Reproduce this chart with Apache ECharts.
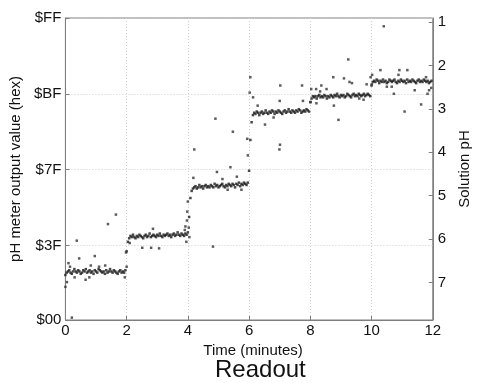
<!DOCTYPE html>
<html>
<head>
<meta charset="utf-8">
<script src="https://cdn.jsdelivr.net/npm/echarts@6/dist/echarts.min.js"></script>
<style>
html, body { margin: 0; padding: 0; background: #fff; }
#readout { width: 480px; height: 383px; }
</style>
</head>
<body>
<div id="readout"></div>
<script>
// pH meter readout, one reading every 2.5 s, 2 minutes per buffer solution

// time axis ticks (minutes)
let timeTicks = [0, 2, 4, 6, 8, 10, 12];
// left axis: raw 8 bit meter value
let hexTicks = [0, 63, 127, 191, 255];
// right axis: solution pH
let phTicks = [1, 2, 3, 4, 5, 6, 7];

let segmentStarts = [0, 2, 4, 6, 8, 10];
let samplePeriod = 2.5 / 60;

// steady readings per segment
let seg1 = [38,40,41,42,40,39,41,43,41,40,42,41,39,40,42,41,43,40,41,42,40,41,39,42,41,40,43,42,41,40,41,39,42,40,41,43,41,40,42,41,40,39,41,42,40,41,40,42];
let seg2 = [58,66,69,71,70,72,70,69,71,70,72,71,70,69,71,72,70,71,73,70,71,72,71,70,72,71,73,71,70,72,71,72,73,71,72,70,72,73,71,72,74,72,71,73,72,71,73,72];
let seg3 = [74,87,103,109,111,112,113,111,112,114,112,113,111,113,114,112,113,112,114,113,112,115,113,114,112,113,114,115,113,112,114,113,115,114,113,115,114,112,115,114,116,113,115,114,116,115,114,116];
let seg4 = [126,152,167,173,175,174,176,175,173,175,176,174,175,177,175,174,176,175,177,176,174,176,175,177,176,175,174,176,177,175,176,178,176,175,177,176,175,177,176,178,177,175,176,177,176,178,177,176];
let seg5 = [184,187,189,188,189,187,189,190,188,189,188,190,189,187,189,188,190,189,188,190,189,191,189,188,190,189,190,188,189,191,190,189,188,190,191,189,190,189,191,190,189,190,191,189,190,191,190,189];
let seg6 = [198,201,202,201,203,202,200,202,201,203,201,202,200,201,203,202,201,202,203,201,200,202,201,203,202,201,202,200,203,201,202,201,203,202,201,200,202,203,201,202,201,203,202,201,202,200,201,202];

// stray readings [minutes, value]
let strays = [
    [0.0,28],[0.05,32],[0.1,48],[0.15,45],[0.21,2],[0.3,36],[0.37,67],[0.45,52],[0.66,34],[0.78,36],
    [0.83,46],[0.96,54],[1.1,45],[1.3,46],[1.39,81],[1.65,89],[1.94,36],[1.98,57],[2.0,45],
    [2.1,65],[2.51,61],[2.8,61],[2.86,77],[3.06,60.5],[3.9,76],[3.95,66],[3.97,84],[3.98,91.5],[4.0,100],[3.92,79],
    [4.03,78],[4.05,70],[4.18,120],[4.21,144],[4.82,62],[4.9,170],[4.95,125],[5.13,119],[5.3,110],[5.39,129],
    [5.47,159],[5.6,121],[5.75,110],[5.94,153],[5.96,139],
    [6.02,192],[6.04,205],[6.13,188],[6.28,181],[6.52,165],[6.8,171],[6.99,144],[7.0,185],[7.01,148],[7.02,198],
    [7.73,198],[7.76,185],
    [8.01,184],[8.03,195],[8.19,195],[8.2,183],[8.32,193],[8.36,198],[8.53,195],[8.75,205],[8.77,181],[8.92,169],
    [9.1,204],[9.24,220],[9.28,201],[9.36,200],[9.6,187],[9.74,186],[9.84,199],[9.97,205],[10.01,199],
    [10.02,207],[10.29,211],[10.4,248],[10.5,197],[10.66,197],[10.73,191],[10.88,207],[10.91,211],[11.08,176],
    [11.17,211],[11.41,194],[11.62,182],[11.78,205],[11.83,191],[11.88,194],[11.95,196]
];

let segments = [seg1, seg2, seg3, seg4, seg5, seg6];

function toHex(v) {
    return '$' + v.toString(16).toUpperCase().padStart(2, '0');
}

let steady = [];
segments.forEach((seg, s) => {
    seg.forEach((v, i) => {
        steady.push([segmentStarts[s] + i * samplePeriod, v]);
    });
});

let font = 'Liberation Sans, Arial, Helvetica, sans-serif';
let axisGray = '#7f7f7f';
let gridStyle = { color: '#cfcfcf', type: [1, 2], width: 1 };

let chartDom = document.getElementById('readout');
let readoutChart = echarts.init(chartDom);

readoutChart.setOption({
    animation: false,
    textStyle: { fontFamily: font },
    title: {
        text: 'Readout',
        left: 215,
        top: 358,
        padding: 0,
        textStyle: { fontFamily: font, fontSize: 24, fontWeight: 'normal', color: '#111' }
    },
    grid: {
        left: 65, right: 33, top: 18, bottom: 63,
        show: true, borderColor: axisGray, borderWidth: 1
    },
    xAxis: {
        type: 'value',
        min: 0, max: 12, interval: 2,
        name: 'Time (minutes)',
        nameLocation: 'middle',
        nameGap: 15,
        nameTextStyle: { fontFamily: font, fontSize: 15, color: '#111', padding: [0, 0, 0, 8] },
        axisLine: { lineStyle: { color: axisGray } },
        axisTick: { inside: true, length: 4, lineStyle: { color: axisGray } },
        axisLabel: { fontSize: 15, color: '#111', margin: 3, customValues: timeTicks },
        splitLine: { show: true, lineStyle: gridStyle }
    },
    yAxis: [{
        type: 'value',
        position: 'left',
        min: 0, max: 255,
        name: 'pH meter output value (hex)',
        nameLocation: 'middle',
        nameGap: 33,
        nameTextStyle: { fontFamily: font, fontSize: 15, color: '#111' },
        axisLine: { show: true, lineStyle: { color: axisGray } },
        axisTick: { show: true, inside: true, length: 4, customValues: hexTicks, lineStyle: { color: axisGray } },
        axisLabel: { fontSize: 15, color: '#111', margin: 4, customValues: hexTicks, formatter: toHex },
        splitLine: { show: true, lineStyle: gridStyle }
    }, {
        type: 'value',
        position: 'right',
        inverse: true,
        min: 0.91, max: 7.86,
        name: 'Solution pH',
        nameLocation: 'middle',
        nameGap: 20,
        nameTextStyle: { fontFamily: font, fontSize: 15, color: '#111' },
        axisLine: { show: true, lineStyle: { color: axisGray } },
        axisTick: { show: true, inside: true, length: 4, customValues: phTicks, lineStyle: { color: axisGray } },
        axisLabel: { fontSize: 15, color: '#111', margin: 5, customValues: phTicks },
        splitLine: { show: false }
    }],
    series: [{
        type: 'scatter',
        yAxisIndex: 0,
        data: steady,
        symbol: 'rect',
        symbolSize: 2.5,
        itemStyle: { color: '#1a1a1a' }
    }, {
        type: 'scatter',
        yAxisIndex: 0,
        data: strays,
        symbol: 'rect',
        symbolSize: 2.5,
        itemStyle: { color: '#333' }
    }]
});

window.onresize = function() {
    readoutChart.resize();
};
</script>
</body>
</html>
